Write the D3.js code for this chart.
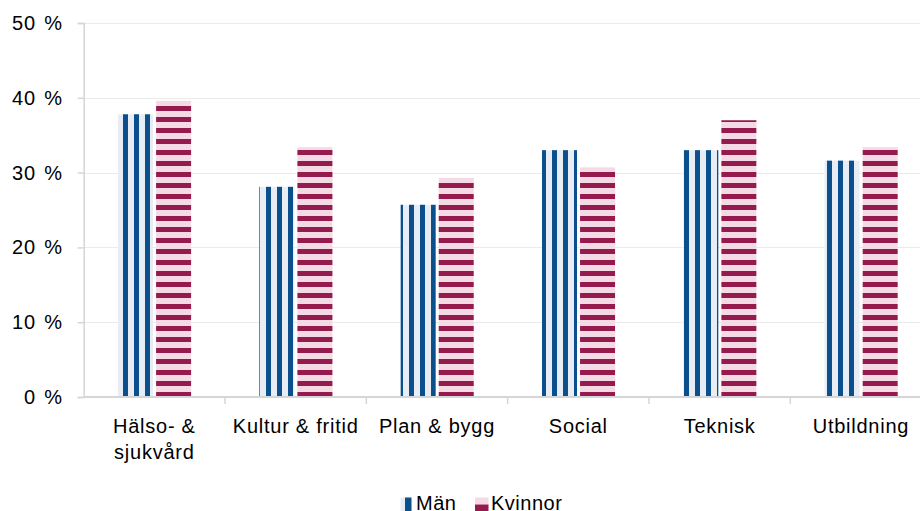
<!DOCTYPE html>
<html>
<head>
<meta charset="utf-8">
<script src="https://cdn.jsdelivr.net/npm/d3@7"></script>
<style>
  body { margin: 0; background: #fff; }
  svg { display: block; font-family: "Liberation Sans", Arial, Helvetica, sans-serif; }
</style>
</head>
<body>
<svg class="chart" width="920" height="511"></svg>
<script>
// data
const categories = ["Hälso- &\nsjukvård", "Kultur & fritid", "Plan & bygg", "Social", "Teknisk", "Utbildning"];
const series = ["Män", "Kvinnor"];
const manValues = [0.378, 0.281, 0.257, 0.330, 0.330, 0.316];
const kvinnorValues = [0.396, 0.334, 0.293, 0.307, 0.370, 0.334];
const yTicks = [0, 0.1, 0.2, 0.3, 0.4, 0.5];

// config
const plotLeft = 83.7;
const plotRight = 931.6;   // plot runs past the window edge
const plotTop = 23;
const plotBottom = 397;
const axisColor = "#d6d6d6";
const gridColor = "#ebebeb";
const fontSize = "20px";

const svg = d3.select("svg.chart");

const y = d3.scaleLinear().domain([0, 0.5]).range([plotBottom, plotTop]);
const x0 = d3.scaleBand().domain(categories).range([plotLeft, plotRight]);
const bw = x0.bandwidth();
const x1 = d3.scaleBand().domain(series).range([bw * 0.243, bw * 0.76]).paddingInner(0.08);

// patterns (userSpaceOnUse, so stripes line up over the whole chart)
const defs = svg.append("defs");
const pMan = defs.append("pattern")
  .attr("id", "p-man")
  .attr("patternUnits", "userSpaceOnUse")
  .attr("x", 2).attr("y", 0)
  .attr("width", 11).attr("height", 11);
pMan.append("rect").attr("width", 11).attr("height", 11).attr("fill", "#e8edf5");
pMan.append("rect").attr("width", 5).attr("height", 11).attr("fill", "#0b4f8c");

const pKv = defs.append("pattern")
  .attr("id", "p-kv")
  .attr("patternUnits", "userSpaceOnUse")
  .attr("x", 0).attr("y", 7)
  .attr("width", 11).attr("height", 11);
pKv.append("rect").attr("width", 11).attr("height", 11).attr("fill", "#f4dae4");
pKv.append("rect").attr("width", 11).attr("height", 5).attr("fill", "#951a4e");

const fills = { "Män": "url(#p-man)", "Kvinnor": "url(#p-kv)" };

// gridlines
svg.append("g")
  .selectAll("line")
  .data(yTicks.filter(t => t > 0))
  .join("line")
  .attr("x1", plotLeft).attr("x2", 920)
  .attr("y1", d => Math.round(y(d)) + 0.5)
  .attr("y2", d => Math.round(y(d)) + 0.5)
  .attr("stroke", gridColor)
  .attr("stroke-width", 1);

// y axis
const yAxis = d3.axisLeft(y)
  .tickValues(yTicks)
  .tickSize(6)
  .tickPadding(15)
  .tickFormat(d => `${Math.round(d * 100)} %`);

const gY = svg.append("g")
  .attr("transform", `translate(${plotLeft},0)`)
  .call(yAxis);
gY.select(".domain").attr("stroke", axisColor).attr("stroke-width", 1.5);
gY.selectAll(".tick line").attr("stroke", axisColor).attr("stroke-width", 1.5);
gY.selectAll(".tick text")
  .attr("fill", "#000")
  .style("font-size", fontSize)
  .style("letter-spacing", "0.75px")
  .style("word-spacing", "2px")
  .style("font-family", "'Liberation Sans', Arial, sans-serif");

// bars
const bars = [];
categories.forEach((c, i) => {
  bars.push({ cat: c, key: series[0], value: manValues[i] });
  bars.push({ cat: c, key: series[1], value: kvinnorValues[i] });
});

svg.append("g")
  .selectAll("rect")
  .data(bars)
  .join("rect")
  .attr("x", d => x0(d.cat) + x1(d.key))
  .attr("width", x1.bandwidth())
  .attr("y", d => y(d.value))
  .attr("height", d => y(0) - y(d.value))
  .attr("fill", d => fills[d.key]);

// x axis line
svg.append("line")
  .attr("x1", plotLeft).attr("x2", 920)
  .attr("y1", plotBottom).attr("y2", plotBottom)
  .attr("stroke", axisColor).attr("stroke-width", 2);

// category boundary ticks
svg.append("g")
  .selectAll("line")
  .data(categories.slice(1))
  .join("line")
  .attr("x1", d => x0(d)).attr("x2", d => x0(d))
  .attr("y1", plotBottom).attr("y2", plotBottom + 7)
  .attr("stroke", axisColor).attr("stroke-width", 1.5);

// category labels
const labels = svg.append("g")
  .selectAll("text")
  .data(categories)
  .join("text")
  .attr("x", d => x0(d) + bw / 2)
  .attr("y", 433)
  .attr("text-anchor", "middle")
  .style("font-size", fontSize)
  .style("letter-spacing", "0.75px")
  .attr("fill", "#000");

labels.selectAll("tspan")
  .data(d => d.split("\n"))
  .join("tspan")
  .attr("x", function () { return d3.select(this.parentNode).attr("x"); })
  .attr("dy", (d, i) => i === 0 ? 0 : 26)
  .text(d => d);

// legend
const legend = svg.append("g").style("font-size", fontSize).style("letter-spacing", "0.5px");

// Män swatch
legend.append("rect").attr("x", 400.5).attr("y", 497.5).attr("width", 4.5).attr("height", 14).attr("fill", "#e8edf5");
legend.append("rect").attr("x", 405).attr("y", 497.5).attr("width", 6.5).attr("height", 14).attr("fill", "#0b4f8c");
legend.append("text").attr("x", 416).attr("y", 510).text(series[0]);

// Kvinnor swatch
legend.append("rect").attr("x", 475).attr("y", 497.5).attr("width", 13.5).attr("height", 7).attr("fill", "#f4dae4");
legend.append("rect").attr("x", 475).attr("y", 504.5).attr("width", 13.5).attr("height", 7).attr("fill", "#951a4e");
legend.append("text").attr("x", 491).attr("y", 510).text(series[1]);
</script>
</body>
</html>
